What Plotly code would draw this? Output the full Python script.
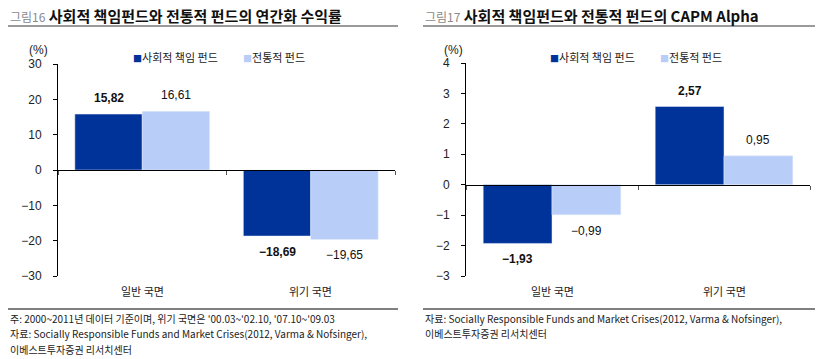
import plotly.graph_objects as go

W, H = 819, 359

categories = ["일반 국면", "위기 국면"]
series_names = ["사회적 책임 펀드", "전통적 펀드"]
returns_sri = [15.82, -18.69]
returns_conv = [16.61, -19.65]
alpha_sri = [-1.93, 2.57]
alpha_conv = [-0.99, 0.95]
left_ticks = [-30, -20, -10, 0, 10, 20, 30]
right_ticks = [-3, -2, -1, 0, 1, 2, 3, 4]

title_left = "사회적 책임펀드와 전통적 펀드의 연간화 수익률"
title_right = "사회적 책임펀드와 전통적 펀드의 CAPM Alpha"
fig_left = "그림16"
fig_right = "그림17"
notes_left = ["주: 2000~2011년 데이터 기준이며, 위기 국면은 '00.03~'02.10, '07.10~'09.03",
              "자료: Socially Responsible Funds and Market Crises(2012, Varma & Nofsinger),",
              "이베스트투자증권 리서치센터"]
notes_right = ["자료: Socially Responsible Funds and Market Crises(2012, Varma & Nofsinger),",
               "이베스트투자증권 리서치센터"]

DARK = "#00339A"
LIGHT = "#B9CDF9"
KFONT = "Noto Sans CJK KR"
NFONT = "Liberation Sans Narrow, Liberation Sans, Arial"

def px(x):
    return x / W

def py(y):
    return (H - y) / H

fig = go.Figure()

fig.add_trace(go.Bar(x=categories, y=returns_sri, name=series_names[0], marker_color=DARK,
                     xaxis="x", yaxis="y", showlegend=False, hoverinfo="skip"))
fig.add_trace(go.Bar(x=categories, y=returns_conv, name=series_names[1], marker_color=LIGHT,
                     xaxis="x", yaxis="y", showlegend=False, hoverinfo="skip"))
fig.add_trace(go.Bar(x=categories, y=alpha_sri, name=series_names[0], marker_color=DARK,
                     xaxis="x2", yaxis="y2", showlegend=False, hoverinfo="skip"))
fig.add_trace(go.Bar(x=categories, y=alpha_conv, name=series_names[1], marker_color=LIGHT,
                     xaxis="x2", yaxis="y2", showlegend=False, hoverinfo="skip"))

ly_dom = [py(276), py(64)]
ry_dom = [py(276), py(63)]
lrange = [-30, 30]
rrange = [-3, 4]
def zero_pos(dom, rng):
    return dom[0] + (0 - rng[0]) / (rng[1] - rng[0]) * (dom[1] - dom[0])

xcommon = dict(type="category", showline=True, linecolor="black", linewidth=1.3,
               ticks="outside", tickson="boundaries", ticklen=4, tickcolor="#555",
               showticklabels=False, showgrid=False, zeroline=False, range=[-0.5, 1.5],
               anchor="free", automargin=False)
ycommon = dict(showline=True, linecolor="black", linewidth=1, ticks="outside", ticklen=4,
               tickcolor="black", showgrid=False, zeroline=False, automargin=False,
               ticklabelstandoff=9,
               tickfont=dict(family=NFONT, size=12, color="#222"))

fig.update_layout(
    width=W, height=H, margin=dict(l=0, r=0, t=0, b=0, autoexpand=False),
    paper_bgcolor="white", plot_bgcolor="white",
    barmode="group", bargap=0.2, bargroupgap=0,
    xaxis=dict(domain=[px(58), px(395)], position=zero_pos(ly_dom, lrange), **xcommon),
    xaxis2=dict(domain=[px(466), px(810)], position=zero_pos(ry_dom, rrange), **xcommon),
    yaxis=dict(domain=ly_dom, range=lrange, tickvals=left_ticks, anchor="x", **ycommon),
    yaxis2=dict(domain=ry_dom, range=rrange, tickvals=right_ticks, anchor="x2", **ycommon),
    showlegend=False,
)

ann = []
# data labels
def add_labels(xref, yref, vals, offset, bold):
    for i, v in enumerate(vals):
        txt = f"{v:.2f}".replace("-", "−").replace(".", ",")
        if bold:
            txt = f"<b>{txt}</b>"
        ann.append(dict(x=i + offset, y=v, xref=xref, yref=yref, text=txt, showarrow=False,
                        xanchor="center", yanchor="middle",
                        yshift=16 if v >= 0 else -16,
                        font=dict(family=NFONT, size=12, color="#111")))

add_labels("x", "y", returns_sri, -0.2, True)
add_labels("x", "y", returns_conv, 0.2, False)
add_labels("x2", "y2", alpha_sri, -0.2, True)
add_labels("x2", "y2", alpha_conv, 0.2, False)

# legends
for x0 in [131, 548]:
    for k, (name, col) in enumerate(zip(series_names, [DARK, LIGHT])):
        ann.append(dict(x=px(x0 + 110 * k), y=py(57), xref="paper", yref="paper", xanchor="left",
                        yanchor="middle", showarrow=False,
                        text=f"<span style='color:{col};font-size:9px'>■</span>{name}",
                        font=dict(family=KFONT, size=11, color="#222")))

# category labels
for xr in ["x", "x2"]:
    for c in categories:
        ann.append(dict(x=c, y=py(291), xref=xr, yref="paper", text=c, showarrow=False,
                        xanchor="center", yanchor="middle",
                        font=dict(family=KFONT, size=11, color="#222")))

# (%) labels
for xc in [38, 453]:
    ann.append(dict(x=px(xc), y=py(50), xref="paper", yref="paper", text="(%)", showarrow=False,
                    xanchor="center", yanchor="middle",
                    font=dict(family=NFONT, size=12, color="#222")))

# titles
for x0, fnum, t in [(8, fig_left, title_left), (423, fig_right, title_right)]:
    ann.append(dict(x=px(x0), y=py(15), xref="paper", yref="paper", xanchor="left", yanchor="middle",
                    showarrow=False,
                    text=f"<span style='color:#8a8a8a;font-size:12px'>{fnum}</span> <b>{t}</b>",
                    font=dict(family=KFONT, size=15, color="#111")))

# footnotes
for x0, notes in [(8, notes_left), (423, notes_right)]:
    for k, n in enumerate(notes):
        ann.append(dict(x=px(x0), y=py(318 + 15.5 * k), xref="paper", yref="paper", xanchor="left",
                        yanchor="middle", showarrow=False, text=n,
                        font=dict(family=KFONT, size=10, color="#222")))

fig.update_layout(annotations=ann)

shapes = []
for x0, x1 in [(8, 398), (423, 815)]:
    shapes.append(dict(type="line", xref="paper", yref="paper", x0=px(x0), x1=px(x1), y0=py(26), y1=py(26),
                       line=dict(color="#9a9a9a", width=2)))
    shapes.append(dict(type="line", xref="paper", yref="paper", x0=px(x0), x1=px(x1), y0=py(309), y1=py(309),
                       line=dict(color="black", width=1)))
fig.update_layout(shapes=shapes)

fig.write_html("out.html", config={"displayModeBar": False},
               post_script="document.body.style.margin='0';document.body.style.overflow='hidden';")
